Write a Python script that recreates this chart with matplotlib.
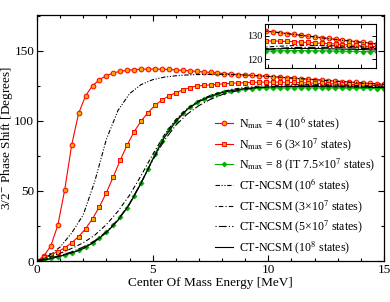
import numpy as np
import matplotlib
matplotlib.use("Agg")
import matplotlib.pyplot as plt
from matplotlib.ticker import MultipleLocator

plt.rcParams['font.family'] = ['Liberation Serif', 'DejaVu Serif']
plt.rcParams['mathtext.fontset'] = 'stix'

# ---- data ----
energy_pts = np.round(np.arange(0, 15.001, 0.3), 1)   # marker grid (MeV)
nmax4 = [0, 3.6, 10.9, 25.5, 51.0, 83.0, 105.5, 118.0, 125.2, 129.5,
         132.4, 134.3, 135.5, 136.2, 136.7, 137.0, 137.1, 137.1, 137.0, 136.8,
         136.5, 136.2, 135.8, 135.4, 135.0, 134.7, 134.3, 133.9, 133.6, 133.2,
         132.9, 132.5, 132.2, 132.0, 131.6, 131.3, 130.9, 130.6, 130.2, 129.9,
         129.6, 129.2, 128.9, 128.5, 128.2, 127.9, 127.5, 127.2, 126.9, 126.5, 126.2]
nmax6 = [0, 2.6, 4.6, 6.6, 9.5, 13.1, 17.4, 23.1, 30.2, 38.8,
         48.8, 60.2, 72.1, 82.9, 92.4, 100.0, 106.0, 111.2, 115.0, 117.9,
         120.2, 122.1, 123.8, 125.0, 125.4, 125.8, 126.2, 126.6, 126.9, 127.2,
         127.4, 127.6, 127.7, 127.8, 127.8, 127.7, 127.6, 127.5, 127.3, 127.2,
         127.0, 126.8, 126.7, 126.5, 126.3, 126.1, 125.9, 125.7, 125.5, 125.3, 125.1]
nmax8 = [0, 0.8, 1.8, 2.9, 4.2, 5.8, 7.8, 10.2, 13.0, 16.5,
         20.5, 25.5, 31.2, 38.2, 46.5, 56.0, 66.0, 76.5, 86.0, 94.0,
         100.3, 105.5, 109.8, 113.3, 116.0, 118.0, 119.6, 120.8, 121.7, 122.4,
         122.9, 123.2, 123.4, 123.5, 123.6, 123.6, 123.7, 123.7, 123.7, 123.7,
         123.6, 123.6, 123.6, 123.5, 123.5, 123.4, 123.4, 123.3, 123.3, 123.2, 123.1]

energy_ct = np.round(np.arange(0, 15.001, 0.5), 1)
ct_1e6 = [0, 3.5, 10, 20, 33, 57, 87, 107.5, 119.5, 126, 129.5, 131.3, 132.3, 132.9,
          133.2, 133.3, 133.3, 133.1, 132.8, 132.4, 131.9, 131.3, 130.7, 130.1, 129.5,
          128.9, 128.3, 127.8, 127.2, 126.7, 126.2]
ct_3e7 = [0, 2.5, 5.5, 9, 13, 18.5, 26, 35.5, 47, 61, 76, 90, 101, 109, 114.5, 118.3,
          121, 122.8, 124, 124.8, 125.3, 125.6, 125.8, 125.9, 125.9, 125.8, 125.7,
          125.5, 125.3, 125.1, 124.9]
ct_5e7 = [0, 1.8, 4, 6.5, 10, 14.5, 21, 29.5, 41, 56, 72, 86, 97, 105, 111, 115.5,
          118.8, 121, 122.6, 123.6, 124.3, 124.7, 125, 125.1, 125.1, 125.1, 125,
          124.9, 124.7, 124.5, 124.3]
ct_1e8 = [0, 1.3, 3.5, 5.8, 8.8, 13.8, 20.3, 29, 40.5, 55.5, 72.5, 88, 99.5, 108.3,
          113.8, 117.5, 120.3, 122, 123.2, 123.9, 124.3, 124.5, 124.6, 124.6, 124.6,
          124.5, 124.4, 124.3, 124.2, 124.0, 123.9]

labels = ["N$_{\\rm max}$ = 4 (10$^{6}$ states)",
          "N$_{\\rm max}$ = 6 (3\u00d710$^{7}$ states)",
          "N$_{\\rm max}$ = 8 (IT 7.5\u00d710$^{7}$ states)",
          "CT-NCSM (10$^{6}$ states)",
          "CT-NCSM (3\u00d710$^{7}$ states)",
          "CT-NCSM (5\u00d710$^{7}$ states)",
          "CT-NCSM (10$^{8}$ states)"]

RED = '#ff0000'
ORANGE = '#ffa500'
GREEN = '#00b000'
ls_1e6 = (0, (4, 1.5, 1, 1.5, 1, 1.5))
ls_3e7 = (0, (1, 2, 4, 2))
ls_5e7 = (0, (1, 2, 7, 2))


def draw(ax, lw=0.8, ms=3.4):
    ax.plot(energy_pts, nmax4, color=RED, lw=lw, marker='o', ms=ms,
            mfc=ORANGE, mec=RED, mew=0.7, label=labels[0])
    ax.plot(energy_pts, nmax6, color=RED, lw=lw, marker='s', ms=ms * 0.9,
            mfc=ORANGE, mec=RED, mew=0.7, label=labels[1])
    ax.plot(energy_pts, nmax8, color=GREEN, lw=lw, marker='D', ms=ms * 0.75,
            mfc=GREEN, mec=GREEN, mew=0.5, label=labels[2])
    ax.plot(energy_ct, ct_1e6, color='black', lw=lw, ls=ls_1e6, label=labels[3])
    ax.plot(energy_ct, ct_3e7, color='black', lw=lw, ls=ls_3e7, label=labels[4])
    ax.plot(energy_ct, ct_5e7, color='black', lw=lw, ls=ls_5e7, label=labels[5])
    ax.plot(energy_ct, ct_1e8, color='black', lw=lw, ls='-', label=labels[6])


fig = plt.figure(figsize=(3.9, 3.02), dpi=100)
ax = fig.add_axes([37 / 390, 1 - 261 / 302, 347 / 390, 246 / 302])
draw(ax)
ax.set_xlim(0, 15)
ax.set_ylim(0, 175.7)
ax.xaxis.set_major_locator(MultipleLocator(5))
ax.xaxis.set_minor_locator(MultipleLocator(1))
ax.yaxis.set_major_locator(MultipleLocator(50))
ax.yaxis.set_minor_locator(MultipleLocator(25))
ax.tick_params(which='both', direction='in', top=True, right=True, labelsize=9.5, pad=2)
ax.tick_params(which='major', length=4, width=0.8)
ax.tick_params(which='minor', length=2.5, width=0.8)
for s in ax.spines.values():
    s.set_linewidth(0.9)
ax.set_xlabel("Center Of Mass Energy [MeV]", fontsize=9.5, labelpad=1)
ax.set_ylabel("3/2$^{-}$ Phase Shift [Degrees]", fontsize=9.5)
ax.yaxis.set_label_coords(-0.062, 0.5)

leg = ax.legend(loc='upper left', bbox_to_anchor=(0.513, 0.595), frameon=False,
                fontsize=8.6, handlelength=1.5, handletextpad=0.5, labelspacing=0.32,
                borderpad=0, borderaxespad=0)

ins = fig.add_axes([265 / 390, 1 - 68.3 / 302, 111 / 390, 44.3 / 302])
draw(ins, lw=0.8, ms=3.4)
ins.set_xlim(9.85, 14.65)
ins.set_ylim(116.2, 135)
ins.xaxis.set_major_locator(MultipleLocator(1))
ins.yaxis.set_major_locator(MultipleLocator(10))
ins.yaxis.set_minor_locator(MultipleLocator(5))
ins.tick_params(which='both', direction='in', top=True, right=True, labelsize=7.5, pad=2)
ins.tick_params(which='major', length=3, width=0.7)
ins.tick_params(which='minor', length=2, width=0.7)
ins.set_xticklabels([])
for s in ins.spines.values():
    s.set_linewidth(0.8)

fig.savefig("out.png", dpi=100)
